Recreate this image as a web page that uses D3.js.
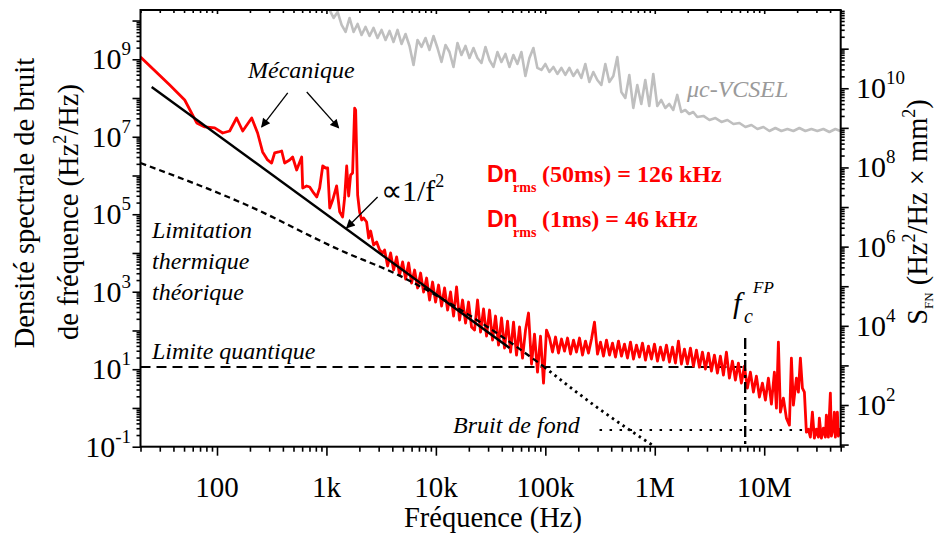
<!DOCTYPE html>
<html><head><meta charset="utf-8">
<script src="https://cdn.jsdelivr.net/npm/d3@7"></script>
<style>
body{margin:0;background:#fff}
svg{display:block}
text{font-family:"Liberation Serif","Times New Roman",Times,serif}
</style></head>
<body><svg id="c" width="939" height="533"></svg>
<script>
// ---------- data ----------
const xDomain = [20, 5e7];
const yLeftDomain = [0.1, 1.87e10];
const yRightDomain = [8.85, 9.48e11];

const xTickValues = [100, 1e3, 1e4, 1e5, 1e6, 1e7];
const xTickLabels = ["100", "1k", "10k", "100k", "1M", "10M"];
const yLeftLabelExps = [-1, 1, 3, 5, 7, 9];
const yRightLabelExps = [2, 4, 6, 8, 10];

// measured frequency-noise spectrum (red), Hz and Hz^2/Hz
const redFreq = [20,37,50.7,65.3,77.3,95.3,112.7,130.6,151,171.8,207.5,235,261,290,315.5,336.5,365.6,390,415,461,491,534.6,594,607,659,703,764,815,867,925,984,1026,1072,1140,1239,1321,1406,1466,1531,1596,1663,1734,1811,1849,1928,2009,2099,2188,2328,2432,2535,2698,2877,3062,3258,
 3401,3622,3858,4110,4377,4662,4966,5289,5633,6000,6391,6807,7250,7722,8225,8760,9330,9938,10585,11274,12008,12790,13622,14509,15454,16460,17531,18673,19888,21183,22562,24031,25595,27262,29037,30927,32940,35085,37369,39802,42393,45153,48093,51224,54559,58111,61894,65923,70215,74786,79655,84841,90365,96248,102514,
 109250,116360,123940,132010,140600,149760,159510,169900,180960,192740,205290,218660,232900,248060,264210,281410,299740,319250,340040,362180,385760,410880,437630,466120,496470,528800,563230,599900,638960,680560,724870,772070,822340,875880,932910,993650,1058300,1127300,1200700,1278900,1362100,1450800,1545300,1645900,1753000,1867200,1988800,2118300,2256200,2403100,2559600,2726200,2903700,3092800,3294200,3508700,3737100,3980400,4239600,4515600,4809600,5122800,5456300,5811600,6190000,6593000,
 7025000,7480000,7970000,8490000,9040000,9630000,10260000,10920000,11640000,12390000,12930000,13480000,14060000,14970000,15950000,16990000,17720000,18480000,19680000,20530000,21410000,22340000,23290000,24290000,
 25330000,26420000,27560000,28740000,29970000,31260000,31920000,33300000,34720000,36210000,36980000,38570000,40230000,41090000,42860000,43760000,44690000,46610000,47600000,49500000];
const redVal = [1.15e9,2.17e8,8.9e7,2.27e7,1.79e7,1.69e7,1.25e7,1.41e7,3.05e7,1.41e7,3.05e7,1.25e7,4.05e6,2.52e6,2.1e6,3.82e6,4.05e6,4.3e6,2.1e6,2.52e6,3.0e6,1.39e6,3.0e6,4.76e5,5.37e5,5.06e5,3.54e5,2.79e5,4.76e5,1.76e6,1.56e6,1.56e6,1.45e5,2.33e5,5.37e5,1.15e5,8.5e4,2.63e5,1.76e6,2.96e5,1.03e6,1.16e6,5.5e7,4.9e7,3.14e5,1.15e5,7.1e4,8.0e4,6.3e4,2.44e4,3.7e4,1.61e4,1.92e4,1.2e4,1.0e4,
 1.2e4,4.62e3,1.0e4,3.64e3,7.89e3,2.70e3,5.86e3,2.13e3,5.52e3,1.68e3,3.64e3,1.25e3,3.04e3,984,2.26e3,611,1.78e3,542,1.49e3,428,1.25e3,337,984,236,1.33e3,186,611,156,542,123,102.6,611,91,358,71.8,337,56.6,236,42,210,35.1,175,27.7,165,23.2,123,19.4,102.6,282,13.6,80.9,8.43,71.8,4.38,102.6,
 63.8,27.7,67.7,26.1,60.1,29.4,63.8,24.6,56.6,27.7,63.8,23.2,53.3,26.1,60.1,165,24.6,50.2,21.8,56.6,23.2,47.3,20.6,53.3,21.8,44.6,19.4,50.2,18.3,42.0,20.6,47.3,17.2,39.6,18.3,44.6,16.2,37.3,17.2,42.0,15.3,37.3,14.4,53.3,13.6,33.1,13.6,35.1,12.0,31.2,11.3,27.7,10.1,26.1,8.95,23.2,7.95,21.8,7.05,27.7,5.9,16.2,5.24,14.4,4.38,12.0,
 3.26,8.43,2.57,6.65,1.91,4.38,1.594,5.9,1.26,8.43,0.99,50.2,0.78,1.80,0.546,0.36,19.4,1.18,5.9,2.57,19.4,3.26,2.57,0.238,
 0.284,0.176,0.78,0.166,0.284,0.176,0.546,0.166,0.301,0.176,0.653,0.176,2.42,0.187,0.301,0.78,0.176,0.78,0.187,0.301];

// µc-VCSEL spectrum (grey, right axis), Hz^2/Hz x mm^2
const vcselFreq = [1069,1163,1265,1376,1496,1628,1770,1926,2094,2278,2478,2695,2931,3188,3468,3772,4103,4463,4854,5280,5743,6247,6795,7391,8039,8744,9511,10345,11252,12239,13313,14480,15750,17132,18634,20269,22047,23980,26084,28372,30860,33567,36511,39714,43197,46986,51107,55590,60466,65769,71538,77813,84638,92062,100137,108920,118474,128865,140168,152462,165835,180380,196202,213411,232130,252490,274636,298725,324927,353427,384426,418145,454821,494714,538107,585306,636644,692485,753225,819293,891154,969319,1054340,1146818,1247409,1356821,1475829,1605280,1746084,1899237,2065822,2247019,2444110,
 2784000,3159000,3584000,4066000,4613000,5233000,5937000,6735000,7641000,8669000,9833000,11160000,12660000,14360000,16290000,18480000,20970000,23780000,26980000,30600000,34720000,39400000,44690000,49500000];
const vcselVal = [9.49e11,5.96e11,8.45e11,3.97e11,2.64e11,5.96e11,2.64e11,4.21e11,2.22e11,3.54e11,2.09e11,3.34e11,1.86e11,2.97e11,1.66e11,2.80e11,1.48e11,2.97e11,1.32e11,2.35e11,1.17e11,3.87e10,1.66e11,1.105e11,1.86e11,9.27e10,2.09e11,1.04e11,4.61e10,1.24e11,8.25e10,3.45e10,1.39e11,6.93e10,1.17e11,5.82e10,1.04e11,5.82e10,4.35e10,1.105e11,5.18e10,3.45e10,8.25e10,4.61e10,7.35e10,3.45e10,6.93e10,4.11e10,8.25e10,2.04e10,5.82e10,1.04e11,3.26e10,2.90e10,4.11e10,2.58e10,3.45e10,2.30e10,3.26e10,2.17e10,3.26e10,2.04e10,2.90e10,1.82e10,4.11e10,1.44e10,2.58e10,1.62e10,1.21e10,4.11e10,1.44e10,2.04e10,6.17e10,8.07e9,5.68e9,2.17e10,3.18e9,1.21e10,4.01e9,1.62e10,3.57e9,2.30e10,3.57e9,5.06e9,3.18e9,4.01e9,2.83e9,6.78e9,2.52e9,2.83e9,2.24e9,2.52e9,1.88e9,
 2.0e9,1.58e9,1.77e9,1.41e9,1.58e9,1.25e9,1.33e9,1.05e9,1.18e9,9.36e8,1.05e9,8.33e8,9.92e8,8.33e8,9.36e8,8.33e8,9.92e8,8.33e8,9.36e8,8.33e8,9.36e8,7.86e8,9.36e8,8.33e8];

// 1/f^2 guide
const fitFreq = [25.3, 47100];
const fitVal = [1.93e8, 35.3];
// theoretical thermal limit (dashed) and its continuation (dotted)
const thermFreq = [20, 199, 1320, 4660, 13300, 40600, 98000];
const thermVal = [2.1e6, 1.6e5, 1.2e4, 2.6e3, 510, 68, 11.4];
const thermTailFreq = [98000, 293500, 1e6];
const thermTailVal = [11.4, 1.06, 0.1];
// quantum limit
const quantumFreq = [20, 6.7e6];
const quantumVal = [11.4, 11.4];
// background noise floor
const floorFreq = [3.13e5, 5e7];
const floorVal = [0.27, 0.27];
// Fabry-Perot cutoff
const fcFreq = [6.7e6, 6.7e6];
const fcVal = [64, 0.1];
// annotation arrows [f0, v0, f1, v1]
const arrows = [[443,1.35e8,256,1.79e7],[661,1.43e8,1293,1.69e7],[2935,2.79e5,1529,4.43e4]];

// ---------- scales ----------
const X0 = 140.5, X1 = 840.7, Y0 = 446.7, Y1 = 10;
const x = d3.scaleLog().domain(xDomain).range([X0, X1]);
const yL = d3.scaleLog().domain(yLeftDomain).range([Y0, Y1]);
const yR = d3.scaleLog().domain(yRightDomain).range([Y0, Y1]);

const svg = d3.select("#c");
const defs = svg.append("defs");
defs.append("clipPath").attr("id","clip").append("rect")
  .attr("x",X0).attr("y",Y1).attr("width",X1-X0).attr("height",Y0-Y1);
defs.append("marker").attr("id","arr").attr("viewBox","0 0 10 10")
  .attr("refX",9).attr("refY",5).attr("markerWidth",11).attr("markerHeight",9)
  .attr("markerUnits","userSpaceOnUse").attr("orient","auto")
  .append("path").attr("d","M0,0L10,5L0,10z").attr("fill","#000");

const plot = svg.append("g").attr("clip-path","url(#clip)");
const lineL = d3.line().x(d=>x(d[0])).y(d=>yL(d[1]));
const curveL = d3.line().x(d=>x(d[0])).y(d=>yL(d[1])).curve(d3.curveMonotoneX);
const lineR = d3.line().x(d=>x(d[0])).y(d=>yR(d[1]));
const zip = (a,b)=>a.map((v,i)=>[v,b[i]]);

// grey VCSEL
plot.append("path").datum(zip(vcselFreq,vcselVal)).attr("d",lineR)
  .attr("fill","none").attr("stroke","#bfbfbf").attr("stroke-width",2.6).attr("stroke-linejoin","round");

// reference lines
plot.append("path").datum(zip(quantumFreq,quantumVal)).attr("d",lineL)
  .attr("fill","none").attr("stroke","#000").attr("stroke-width",1.8).attr("stroke-dasharray","10,6");
plot.append("path").datum(zip(floorFreq,floorVal)).attr("d",lineL)
  .attr("fill","none").attr("stroke","#000").attr("stroke-width",2).attr("stroke-dasharray","2.5,7.5");

// red spectrum
plot.append("path").datum(zip(redFreq,redVal)).attr("d",lineL)
  .attr("fill","none").attr("stroke","#ff0000").attr("stroke-width",2.8).attr("stroke-linejoin","round");

// thermal limit
plot.append("path").datum(zip(thermFreq,thermVal)).attr("d",curveL)
  .attr("fill","none").attr("stroke","#000").attr("stroke-width",2.3).attr("stroke-dasharray","6,4");
plot.append("path").datum(zip(thermTailFreq,thermTailVal)).attr("d",curveL)
  .attr("fill","none").attr("stroke","#000").attr("stroke-width",2.8).attr("stroke-dasharray","2.5,4");
// 1/f^2
plot.append("path").datum(zip(fitFreq,fitVal)).attr("d",lineL)
  .attr("fill","none").attr("stroke","#000").attr("stroke-width",2.4);
// fc
plot.append("path").datum(zip(fcFreq,fcVal)).attr("d",lineL)
  .attr("fill","none").attr("stroke","#000").attr("stroke-width",2.4).attr("stroke-dasharray","11,4,3,4");

// arrows
svg.selectAll(".arrow").data(arrows).enter().append("line")
  .attr("x1",d=>x(d[0])).attr("y1",d=>yL(d[1])).attr("x2",d=>x(d[2])).attr("y2",d=>yL(d[3]))
  .attr("stroke","#000").attr("stroke-width",1.3).attr("marker-end","url(#arr)");

// ---------- axes ----------
const isDecade = v=>Math.abs(Math.log10(v)-Math.round(Math.log10(v)))<1e-9;
const xMinor = x.ticks(30).filter(v=>!isDecade(v));
const lMinor = yL.ticks(40).filter(v=>!isDecade(v));
const lMajor = yL.ticks(40).filter(isDecade);
const rMinor = yR.ticks(40).filter(v=>!isDecade(v));
const rMajor = yR.ticks(40).filter(isDecade);

function ax(gen, tr, vals, size){
  const g = svg.append("g").attr("transform",tr)
    .call(gen.tickValues(vals).tickSize(size).tickSizeOuter(0).tickFormat(""));
  g.select(".domain").remove();
  g.selectAll("line").attr("stroke","#000").attr("stroke-width",1.6);
  return g;
}
ax(d3.axisBottom(x), `translate(0,${Y0})`, xMinor, 5);
ax(d3.axisBottom(x), `translate(0,${Y0})`, xTickValues, 9);
ax(d3.axisTop(x), `translate(0,${Y1})`, xMinor, -3);
ax(d3.axisTop(x), `translate(0,${Y1})`, xTickValues, -4);
ax(d3.axisLeft(yL), `translate(${X0},0)`, lMinor, 4);
ax(d3.axisLeft(yL), `translate(${X0},0)`, lMajor, 8);
ax(d3.axisRight(yR), `translate(${X1},0)`, rMinor, 4);
ax(d3.axisRight(yR), `translate(${X1},0)`, rMajor, 8);

// frame
svg.append("rect").attr("x",X0).attr("y",Y1).attr("width",X1-X0).attr("height",Y0-Y1)
  .attr("fill","none").attr("stroke","#000").attr("stroke-width",2);

// tick labels
svg.selectAll(".xl").data(xTickValues).enter().append("text")
  .attr("x",d=>x(d)).attr("y",497).attr("text-anchor","middle")
  .attr("font-size",29).text((d,i)=>xTickLabels[i]);

yLeftLabelExps.forEach(e=>{
  const t = svg.append("text").attr("x",131).attr("y",yL(Math.pow(10,e))+10)
    .attr("text-anchor","end").attr("font-size",30);
  t.append("tspan").text("10");
  t.append("tspan").attr("font-size",19).attr("dy",-14).text(String(e));
});
yRightLabelExps.forEach(e=>{
  const t = svg.append("text").attr("x",856).attr("y",yR(Math.pow(10,e))+10)
    .attr("font-size",30);
  t.append("tspan").text("10");
  t.append("tspan").attr("font-size",19).attr("dy",-14).text(String(e));
});

// axis titles
svg.append("text").attr("x",493).attr("y",527).attr("text-anchor","middle")
  .attr("font-size",28.5).text("Fréquence (Hz)");
svg.append("text").attr("transform","translate(34,203) rotate(-90)")
  .attr("text-anchor","middle").attr("font-size",28.5).text("Densité spectrale de bruit");
{
  const t = svg.append("text").attr("transform","translate(78,212) rotate(-90)")
    .attr("text-anchor","middle").attr("font-size",28.5);
  t.append("tspan").text("de fréquence (Hz");
  t.append("tspan").attr("font-size",18).attr("dy",-12).text("2");
  t.append("tspan").attr("dy",12).text("/Hz)");
}
{
  const t = svg.append("text").attr("transform","translate(927,212) rotate(-90)")
    .attr("text-anchor","middle").attr("font-size",28.5);
  t.append("tspan").text("S");
  t.append("tspan").attr("font-size",13).attr("dy",6).text("FN");
  t.append("tspan").attr("dy",-6).text(" (Hz");
  t.append("tspan").attr("font-size",18).attr("dy",-12).text("2");
  t.append("tspan").attr("dy",12).text("/Hz × mm");
  t.append("tspan").attr("font-size",18).attr("dy",-12).text("2");
  t.append("tspan").attr("dy",12).text(")");
}

// annotations
const it = (txt,xx,yy,fs,col)=>svg.append("text").attr("x",xx).attr("y",yy)
  .attr("font-size",fs).attr("font-style","italic").attr("fill",col||"#000").text(txt);
it("Mécanique",248,78,24);
it("Limitation",152,238,24);
it("thermique",152,269,24);
it("théorique",152,300,24);
it("Limite quantique",152,359,24);
it("Bruit de fond",453,433,24);
it("μc-VCSEL",687,97,24,"#9a9a9a");
{
  const t = svg.append("text").attr("x",381).attr("y",201).attr("font-size",30);
  t.append("tspan").text("∝1/f");
  t.append("tspan").attr("font-size",18).attr("dy",-14).text("2");
}
it("f",733,313,30);
it("c",744,323,20);
it("FP",753,293,17);
function dn(yb, rest){
  const t = svg.append("text").attr("y",yb).attr("fill","#f00").attr("font-weight","bold");
  t.append("tspan").attr("x",487).attr("font-family","Liberation Sans, Arial, sans-serif").attr("font-size",23).text("Dn");
  t.append("tspan").attr("x",513).attr("dy",10).attr("font-size",14).text("rms");
  t.append("tspan").attr("x",542).attr("dy",-10).attr("font-size",24).text(rest);
}
dn(182,"(50ms) = 126 kHz");
dn(227,"(1ms) = 46 kHz");
</script></body></html>
